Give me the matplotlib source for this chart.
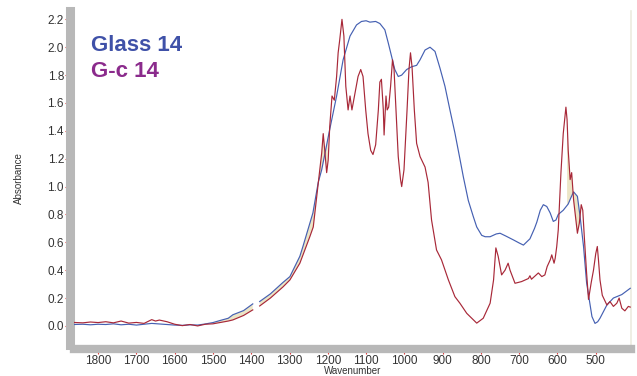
import numpy as np
import matplotlib
matplotlib.use('Agg')
from matplotlib import pyplot as plt
from matplotlib.ticker import MultipleLocator, FormatStrFormatter

# Glass 14 (blue) spectrum, NaN marks the gap around 1387 cm-1
glass_wn = [1865, 1840, 1820, 1800, 1780, 1760, 1740, 1720, 1700, 1680, 1660, 1640, 1620,
            1600, 1580, 1560, 1540, 1520, 1500, 1480, 1460, 1448, 1420, 1396, 1387, 1378,
            1350, 1318, 1299, 1273, 1265, 1239, 1225, 1216, 1195, 1177, 1160, 1142, 1125,
            1112, 1100, 1090, 1075, 1064, 1051, 1042, 1033, 1025, 1016, 1007, 994, 981,
            968, 959, 946, 933, 920, 907, 894, 881, 868, 855, 846, 833, 820, 811, 798,
            789, 776, 760, 750, 735, 715, 700, 689, 672, 660, 654, 645, 637, 628, 619,
            611, 604, 598, 585, 572, 565, 558, 548, 541, 532, 524, 510, 502, 495, 489,
            471, 454, 432, 410]
glass_abs = [0.010, 0.012, 0.008, 0.012, 0.010, 0.015, 0.008, 0.012, 0.006, 0.012, 0.018,
             0.014, 0.010, 0.006, 0.004, 0.008, 0.006, 0.014, 0.024, 0.040, 0.055, 0.080,
             0.110, 0.158, np.nan, 0.175, 0.23, 0.31, 0.354, 0.50, 0.57, 0.81, 1.03, 1.12,
             1.41, 1.65, 1.91, 2.08, 2.16, 2.185, 2.19, 2.18, 2.185, 2.17, 2.125, 2.03,
             1.93, 1.84, 1.79, 1.80, 1.84, 1.86, 1.87, 1.91, 1.98, 2.00, 1.97, 1.85, 1.72,
             1.55, 1.385, 1.20, 1.07, 0.90, 0.785, 0.71, 0.65, 0.64, 0.64, 0.66, 0.665,
             0.645, 0.617, 0.595, 0.58, 0.625, 0.70, 0.745, 0.83, 0.87, 0.857, 0.81, 0.75,
             0.76, 0.80, 0.83, 0.875, 0.92, 0.962, 0.93, 0.785, 0.57, 0.31, 0.067, 0.018,
             0.03, 0.055, 0.15, 0.20, 0.225, 0.27]

# G-c 14 (red) spectrum
gc_wn = [1865, 1840, 1820, 1800, 1780, 1760, 1740, 1720, 1700, 1680, 1660, 1650, 1640,
         1620, 1600, 1580, 1560, 1540, 1520, 1500, 1480, 1460, 1448, 1420, 1396, 1387,
         1378, 1350, 1317, 1299, 1273, 1247, 1238, 1230, 1221, 1216, 1212, 1208, 1203,
         1199, 1195, 1189, 1183, 1177, 1173, 1169, 1163, 1158, 1153, 1147, 1142, 1137,
         1129, 1121, 1114, 1108, 1101, 1095, 1088, 1082, 1075, 1068, 1064, 1060, 1055,
         1053, 1048, 1045, 1041, 1036, 1031, 1027, 1022, 1016, 1010, 1007, 1001, 993,
         988, 984, 980, 974, 968, 959, 946, 938, 929, 916, 903, 885, 868, 855, 837, 811,
         794, 776, 767, 761, 755, 746, 737, 729, 724, 711, 694, 676, 672, 668, 650, 641,
         633, 627, 619, 615, 609, 606, 602, 598, 591, 585, 578, 575, 572, 567, 563, 558,
         554, 548, 543, 538, 534, 530, 524, 519, 512, 506, 500, 496, 493, 489, 483, 471,
         463, 454, 445, 439, 432, 424, 415, 410]
gc_abs = [0.025, 0.022, 0.028, 0.024, 0.030, 0.022, 0.035, 0.020, 0.025, 0.018, 0.045,
          0.035, 0.042, 0.030, 0.012, 0.002, 0.010, 0.000, 0.012, 0.015, 0.025, 0.035,
          0.043, 0.075, 0.115, np.nan, 0.143, 0.20, 0.28, 0.33, 0.45, 0.64, 0.71, 0.90,
          1.12, 1.24, 1.38, 1.26, 1.10, 1.19, 1.43, 1.65, 1.62, 1.79, 1.96, 2.05, 2.20,
          2.08, 1.72, 1.55, 1.65, 1.55, 1.67, 1.79, 1.84, 1.79, 1.55, 1.38, 1.26, 1.23,
          1.30, 1.55, 1.75, 1.77, 1.55, 1.37, 1.65, 1.55, 1.57, 1.72, 1.91, 1.84, 1.55,
          1.215, 1.05, 1.00, 1.12, 1.55, 1.84, 1.96, 1.86, 1.55, 1.31, 1.215, 1.14, 1.03,
          0.76, 0.545, 0.474, 0.33, 0.21, 0.163, 0.09, 0.02, 0.055, 0.163, 0.33, 0.56,
          0.50, 0.366, 0.40, 0.45, 0.40, 0.306, 0.318, 0.34, 0.36, 0.335, 0.38, 0.354,
          0.366, 0.426, 0.474, 0.51, 0.45, 0.486, 0.57, 0.69, 1.10, 1.38, 1.57, 1.48,
          1.26, 1.05, 1.10, 0.905, 0.81, 0.665, 0.737, 0.87, 0.83, 0.64, 0.38, 0.19,
          0.31, 0.40, 0.52, 0.57, 0.474, 0.33, 0.22, 0.15, 0.175, 0.14, 0.163, 0.20,
          0.127, 0.108, 0.14, 0.135]

plt.rcParams['font.family'] = ['Liberation Sans', 'DejaVu Sans']

fig = plt.figure(figsize=(6.37, 3.76), dpi=100)
ax = fig.add_axes([74 / 637, 31 / 376, 557 / 637, 334 / 376])

blue = '#4560b2'
red = '#a82838'

# pale fill where the two traces run close together
grid = np.linspace(1865, 410, 3000)
gb = np.interp(grid, glass_wn[::-1], glass_abs[::-1])
gr = np.interp(grid, gc_wn[::-1], gc_abs[::-1])
band = ((grid < 1500) & (grid > 1200)) | ((grid < 575) & (grid > 540))
ax.fill_between(grid, gb, gr, where=band, color='#ece5c6', lw=0, zorder=1)

ax.plot(glass_wn, glass_abs, color=blue, lw=0.85, zorder=3)
ax.plot(gc_wn, gc_abs, color=red, lw=0.85, zorder=3)

ax.set_xlim(1863, 408)
ax.set_ylim(-0.137, 2.26)

ax.xaxis.set_major_locator(MultipleLocator(100))
ax.xaxis.set_minor_locator(MultipleLocator(20))
ax.yaxis.set_major_locator(MultipleLocator(0.2))
ax.yaxis.set_major_formatter(FormatStrFormatter('%.1f'))
ax.xaxis.set_major_formatter(FormatStrFormatter('%d'))

# thick grey frame on left and bottom, red tick marks
for side in ['left', 'bottom']:
    ax.spines[side].set_color('#b8b8b8')
ax.spines['left'].set_linewidth(6.5)
ax.spines['left'].set_position(('outward', 3.2))
ax.spines['bottom'].set_linewidth(6.0)
ax.spines['bottom'].set_position(('outward', 3.0))
ax.spines['top'].set_visible(False)
ax.spines['right'].set_color('#ecebdf')
ax.spines['right'].set_linewidth(1.2)

ax.tick_params(axis='y', which='major', color='#e03030', length=3.5, width=0.8,
               labelsize=8.5, labelcolor='#333333', pad=0.5)
ax.tick_params(axis='x', which='major', color='#e03030', length=3.5, width=0.8,
               labelsize=8.5, labelcolor='#333333', pad=0.5)
ax.tick_params(axis='x', which='minor', color='#e03030', length=2.2, width=0.8)

ax.set_xlabel('Wavenumber', fontsize=7, color='#333333')
ax.set_ylabel('Absorbance', fontsize=7, color='#333333')
ax.xaxis.set_label_coords(0.5, -0.062)
ax.yaxis.set_label_coords(-0.09, 0.5)

ax.text(0.0305, 0.880, 'Glass 14', transform=ax.transAxes, fontsize=16,
        fontweight='bold', color='#3f51a8', va='baseline')
ax.text(0.0305, 0.801, 'G-c 14', transform=ax.transAxes, fontsize=16,
        fontweight='bold', color='#8b2b8c', va='baseline')

fig.savefig('out.png', dpi=100)
